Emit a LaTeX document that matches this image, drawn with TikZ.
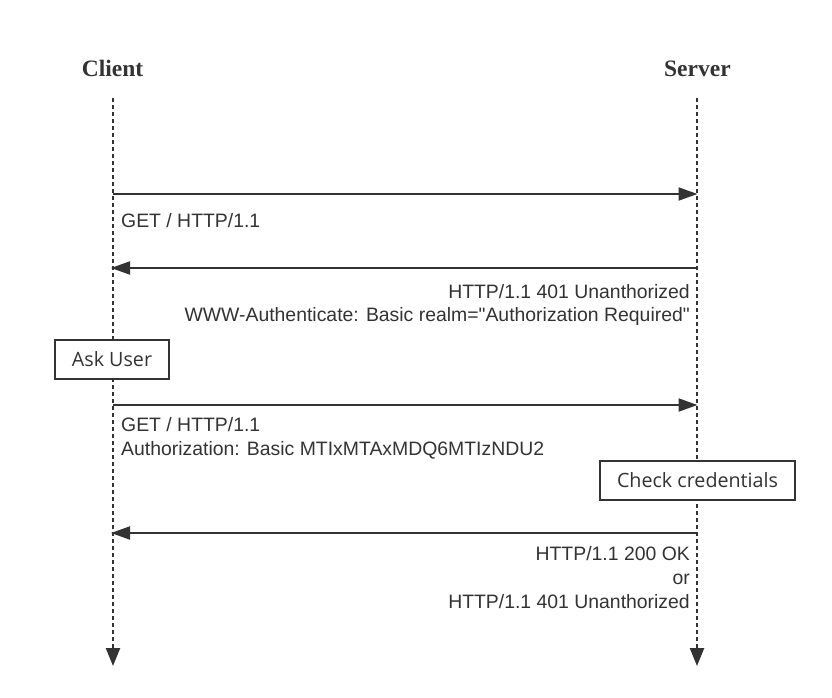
\documentclass[tikz,border=0pt]{standalone}
\usepackage{fontspec}
\setmainfont{Liberation Sans}
\newfontfamily\lblfont{Liberation Sans}[Ligatures=TeXOff]
\newfontfamily\titlefont{Liberation Serif}
\newfontfamily\boxfont{Open Sans}
\usetikzlibrary{arrows.meta}
\definecolor{ink}{HTML}{333333}
\begin{document}
\begin{tikzpicture}[x=1pt,y=-1pt,
  lifeline/.style={draw=ink, line width=2.4pt, dash pattern=on 4pt off 3pt, -{Triangle[length=18pt,width=14pt]}},
  msg/.style={draw=ink, line width=2pt, -{Triangle[length=19pt,width=13pt]}},
  lbl/.style={text=ink, font=\lblfont\fontsize{19.4}{23}\selectfont, inner sep=0pt},
  actbox/.style={draw=ink, line width=2pt, fill=white, text=ink, inner sep=0pt,
     font=\boxfont\fontsize{19.7}{23}\selectfont, minimum height=39pt},
  ttl/.style={text=ink, inner sep=0pt, font=\titlefont\bfseries\fontsize{23.5}{28}\selectfont}]
\fill[white] (0,0) rectangle (832,698);
\useasboundingbox (0,0) rectangle (832,698);
% titles
\node[ttl, anchor=base] (client) at (112.5,76.7) {Client};
\node[ttl, anchor=base] (server) at (697.4,76.7) {Server};
% lifelines
\coordinate (ctop) at (113,98);
\coordinate (cbot) at (113,666);
\coordinate (stop) at (697,98);
\coordinate (sbot) at (697,666);
\draw[lifeline] (ctop) -- (cbot);
\draw[lifeline] (stop) -- (sbot);
% message points
\coordinate (c1) at (113,194);  \coordinate (s1) at (697.5,194);
\coordinate (c2) at (111,268);  \coordinate (s2) at (697,268);
\coordinate (c3) at (113,405);  \coordinate (s3) at (697.5,405);
\coordinate (c4) at (111,533);  \coordinate (s4) at (697,533);
\draw[msg] (c1) -- (s1);
\draw[msg] (s2) -- (c2);
\draw[msg] (c3) -- (s3);
\draw[msg] (s4) -- (c4);
% labels
\node[lbl, anchor=base west] (l1) at (121,227.5) {GET / HTTP/1.1};
\node[lbl, anchor=base east] (l2a) at (690,298) {HTTP/1.1 401 Unanthorized};
\node[lbl, anchor=base east] (l2b) at (690,321) {WWW-Authenticate: Basic realm="Authorization Required"};
\node[lbl, anchor=base west] (l3a) at (121,431.5) {GET / HTTP/1.1};
\node[lbl, anchor=base west] (l3b) at (121,455) {Authorization: Basic MTIxMTAxMDQ6MTIzNDU2};
\node[lbl, anchor=base east] (l4a) at (690,560) {HTTP/1.1 200 OK};
\node[lbl, anchor=base east] (l4b) at (690,584.5) {or};
\node[lbl, anchor=base east] (l4c) at (690,608.5) {HTTP/1.1 401 Unanthorized};
% boxes
\node[actbox, minimum width=114pt] (ask) at (112,359.5) {Ask User};
\node[actbox, minimum width=195pt] (check) at (697.5,480.5) {Check credentials};
\end{tikzpicture}
\end{document}
